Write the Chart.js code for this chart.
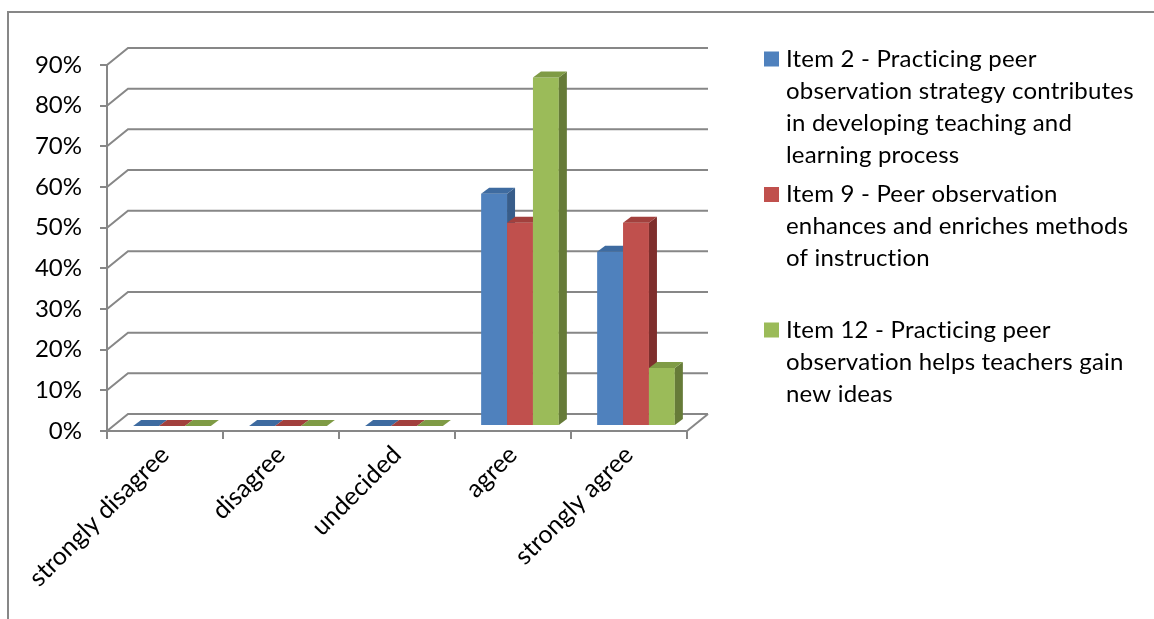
<!DOCTYPE html>
<html>
<head>
<meta charset="utf-8">
<script src="https://cdn.jsdelivr.net/npm/chart.js@4.4.1/dist/chart.umd.min.js"></script>
<style>
  html, body { margin: 0; padding: 0; background: #fff; }
  #wrap { width: 1154px; height: 619px; }
</style>
</head>
<body>
<div id="wrap"><canvas id="peerChart" width="1154" height="619"></canvas></div>
<script>
var categories = ["strongly disagree", "disagree", "undecided", "agree", "strongly agree"];
var item2 = [0, 0, 0, 57.14, 42.86];
var item9 = [0, 0, 0, 50, 50];
var item12 = [0, 0, 0, 85.71, 14.29];
var yTicks = [0, 10, 20, 30, 40, 50, 60, 70, 80, 90];
var seriesNames = [
    ["Item 2 - Practicing peer", "observation strategy contributes", "in developing teaching and", "learning process"],
    ["Item 9 - Peer observation", "enhances and enriches methods", "of instruction"],
    ["Item 12 - Practicing peer", "observation helps teachers gain", "new ideas"]
];

var frontColors = ["#4F81BD", "#C0504D", "#9BBB59"];
var topColors = ["#3E6BA0", "#A2403D", "#7F9B45"];
var sideColors = ["#385D8A", "#7F2F2D", "#667B38"];
var gridColor = "#878787";
var font = "Lato";

var back = { dx: 21, dy: 17 };   // back wall offset
var shift = { dx: 7, dy: 5 };    // bar row sits a bit behind the front plane
var depth = { dx: 8, dy: 6 };    // bar thickness

// outer frame
var frame = {
    id: "frame",
    beforeDraw: function (chart) {
        var ctx = chart.ctx;
        ctx.save();
        ctx.strokeStyle = gridColor;
        ctx.lineWidth = 2;
        ctx.beginPath();
        ctx.moveTo(8, chart.height);
        ctx.lineTo(8, 12);
        ctx.lineTo(chart.width, 12);
        ctx.stroke();
        ctx.restore();
    }
};

// slanted grid lines on the back wall and the floor
var wall = {
    id: "wall",
    beforeDatasetsDraw: function (chart) {
        var ctx = chart.ctx, area = chart.chartArea, y = chart.scales.y;
        ctx.save();
        ctx.strokeStyle = gridColor;
        ctx.lineWidth = 2;
        yTicks.forEach(function (v) {
            var py = y.getPixelForValue(v);
            ctx.beginPath();
            ctx.moveTo(area.left, py);
            ctx.lineTo(area.left + back.dx, py - back.dy);
            ctx.lineTo(area.right + back.dx, py - back.dy);
            ctx.stroke();
        });
        var p0 = y.getPixelForValue(0);
        ctx.beginPath();
        ctx.moveTo(area.right, p0);
        ctx.lineTo(area.right + back.dx, p0 - back.dy);
        ctx.stroke();
        ctx.restore();
    }
};

// columns are drawn series by series, each followed by its top and side faces,
// so later series cover the side faces of earlier ones
var bars3d = {
    id: "bars3d",
    beforeDatasetDraw: function () {
        return false;
    },
    afterDatasetsDraw: function (chart) {
        var ctx = chart.ctx;
        ctx.save();
        ctx.translate(shift.dx, -shift.dy);
        chart.data.datasets.forEach(function (ds, i) {
            var meta = chart.getDatasetMeta(i);
            meta.controller.draw();
            meta.data.forEach(function (bar) {
                var p = bar.getProps(["x", "y", "base", "width"], true);
                var l = p.x - p.width / 2, r = p.x + p.width / 2;
                ctx.fillStyle = sideColors[i];
                ctx.beginPath();
                ctx.moveTo(r, p.y);
                ctx.lineTo(r + depth.dx, p.y - depth.dy);
                ctx.lineTo(r + depth.dx, p.base - depth.dy);
                ctx.lineTo(r, p.base);
                ctx.closePath();
                ctx.fill();
                ctx.fillStyle = topColors[i];
                ctx.beginPath();
                ctx.moveTo(l, p.y);
                ctx.lineTo(l + depth.dx, p.y - depth.dy);
                ctx.lineTo(r + depth.dx, p.y - depth.dy);
                ctx.lineTo(r, p.y);
                ctx.closePath();
                ctx.fill();
            });
        });
        ctx.restore();
    }
};

// legend with wrapped labels
var sideLegend = {
    id: "sideLegend",
    afterDraw: function (chart) {
        var ctx = chart.ctx;
        var x = 764, top = 59, slot = 135.5, lineH = 32;
        ctx.save();
        ctx.font = "24px " + font;
        ctx.letterSpacing = "0.2px";   // also keeps "ti" from joining
        ctx.textBaseline = "middle";
        seriesNames.forEach(function (lines, i) {
            var y0 = top + i * slot;
            ctx.fillStyle = frontColors[i];
            ctx.fillRect(x, y0 - 7.5, 15, 15);
            ctx.fillStyle = "#000";
            lines.forEach(function (t, j) {
                ctx.fillText(t, x + 22, y0 + j * lineH);
            });
        });
        ctx.restore();
    }
};

new Chart("peerChart", {
    type: "bar",
    data: {
        labels: categories,
        datasets: [
            { label: seriesNames[0].join(" "), data: item2, backgroundColor: frontColors[0], clip: false },
            { label: seriesNames[1].join(" "), data: item9, backgroundColor: frontColors[1], clip: false },
            { label: seriesNames[2].join(" "), data: item12, backgroundColor: frontColors[2], clip: false }
        ]
    },
    options: {
        responsive: false,
        animation: false,
        layout: { padding: { top: 65, right: 467, left: 0, bottom: 0 } },
        datasets: { bar: { categoryPercentage: 0.67, barPercentage: 1, borderWidth: 0 } },
        plugins: {
            legend: { display: false },
            tooltip: { enabled: false }
        },
        scales: {
            x: {
                grid: { drawOnChartArea: false, tickLength: 8, color: gridColor, lineWidth: 2 },
                border: { color: gridColor, width: 2 },
                ticks: {
                    autoSkip: false, maxRotation: 45, minRotation: 45,
                    color: "#000", font: { family: font, size: 25 }, padding: 1
                },
                afterFit: function (s) { s.height = 188; }
            },
            y: {
                min: 0,
                max: 90,
                grid: { drawOnChartArea: false, tickLength: 7, color: gridColor, lineWidth: 2 },
                border: { color: gridColor, width: 2 },
                ticks: {
                    stepSize: 10,
                    padding: 18,
                    color: "#000",
                    font: { family: font, size: 24 },
                    callback: function (v) { return v + "%"; }
                },
                afterFit: function (s) { s.width = 107; }
            }
        }
    },
    plugins: [frame, wall, bars3d, sideLegend]
});
</script>
</body>
</html>
